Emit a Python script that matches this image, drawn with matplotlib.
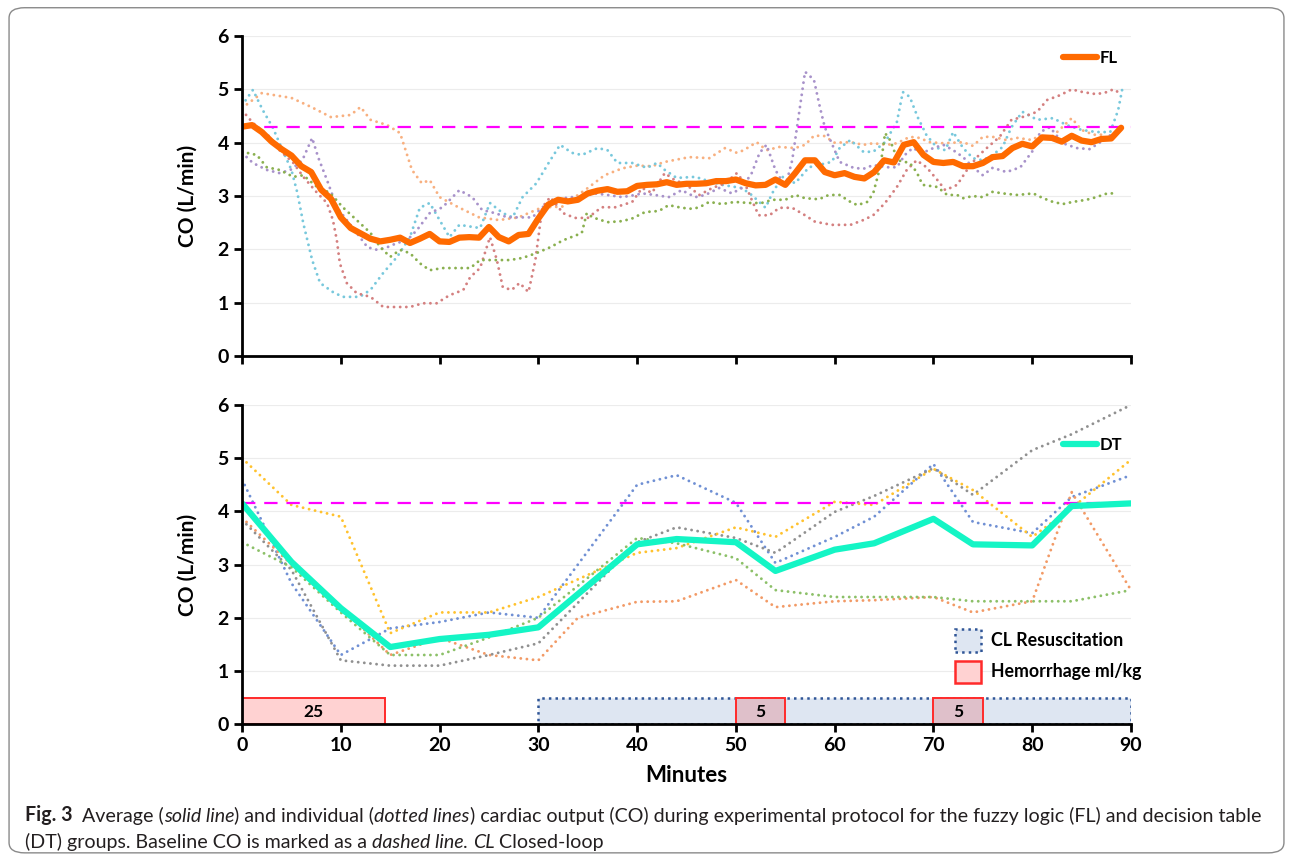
import numpy as np
import matplotlib
matplotlib.use("Agg")
import matplotlib.pyplot as plt
from matplotlib.patches import Rectangle, Patch, FancyBboxPatch

# ---------------- data ----------------
minutes = list(range(90))
fl_mean = [4.30, 4.33, 4.20, 4.02, 3.88, 3.76, 3.56, 3.45, 3.12, 2.95,
           2.60, 2.40, 2.30, 2.20, 2.15, 2.18, 2.22, 2.12, 2.20, 2.29,
           2.15, 2.14, 2.22, 2.23, 2.22, 2.42, 2.23, 2.15, 2.27, 2.29,
           2.58, 2.84, 2.93, 2.90, 2.93, 3.05, 3.10, 3.13, 3.08, 3.09,
           3.19, 3.21, 3.22, 3.26, 3.21, 3.23, 3.23, 3.24, 3.28, 3.28,
           3.31, 3.24, 3.20, 3.21, 3.31, 3.21, 3.43, 3.67, 3.67, 3.45,
           3.39, 3.43, 3.36, 3.33, 3.45, 3.67, 3.63, 3.96, 4.01, 3.77,
           3.64, 3.62, 3.64, 3.56, 3.56, 3.62, 3.73, 3.75, 3.90, 3.98,
           3.93, 4.10, 4.09, 4.02, 4.13, 4.04, 4.01, 4.07, 4.08, 4.28]
fl_baseline = 4.29

fl_peach_t = [0, 2, 5, 7, 9, 11, 12, 13, 14.7, 16, 17.2, 18.2, 19, 20, 21.8, 24, 26, 28, 29, 30.4,
              32.4, 33.7, 35, 36.7, 38.5, 40, 41.5, 42.8, 45.3, 47.3, 48.9, 50.1, 50.8, 52.1, 53.1,
              54.4, 56, 57, 57.9, 58.9, 60, 61.6, 62.9, 63.9, 65.3, 66.3, 67.6, 68.6, 69.6, 71, 73,
              74, 75, 76, 77.4, 78.5, 80, 80.5, 82, 84, 85, 86.2, 87]
fl_peach_v = [4.65, 4.93, 4.84, 4.67, 4.48, 4.52, 4.67, 4.43, 4.33, 4.18, 3.49, 3.24, 3.30, 2.98,
              2.80, 2.60, 2.55, 2.60, 2.68, 2.79, 2.80, 2.98, 3.15, 3.39, 3.52, 3.57, 3.56, 3.64,
              3.73, 3.71, 3.90, 3.81, 3.86, 4.01, 3.86, 3.92, 3.90, 3.96, 4.13, 4.13, 4.00, 4.01,
              3.96, 3.99, 3.96, 3.99, 4.11, 4.09, 4.01, 3.99, 4.01, 3.94, 4.11, 4.11, 4.05, 4.09,
              4.05, 4.11, 4.11, 4.46, 4.24, 4.15, 4.15]

fl_cyan_t = [0, 1.1, 2.1, 3.1, 4.1, 5, 5.6, 6.2, 7.1, 7.9, 9.2, 10.2, 11.9, 13, 14.3, 15.7, 17, 18,
             19, 20, 21, 22, 23.4, 24.1, 25.1, 26.4, 27.4, 28.4, 29.8, 31.2, 32.2, 33.4, 34.4, 36,
             37, 38, 39.5, 41, 42, 42.8, 44, 45.9, 46.9, 48.6, 50.6, 51.6, 53, 53.7, 54.7, 56,
             57.4, 59.7, 60.5, 61.6, 62.9, 63.9, 65.1, 66.3, 66.9, 67.6, 68.4, 69.3, 70.4, 71.2,
             72, 73, 74, 75, 76, 77, 77.9, 79, 80.5, 82.1, 83.5, 85, 86.5, 87.9, 88.7, 89.1]
fl_cyan_v = [4.70, 4.99, 4.61, 4.29, 3.86, 3.49, 3.06, 2.49, 1.80, 1.37, 1.20, 1.11, 1.11, 1.24,
             1.56, 1.86, 2.23, 2.78, 2.87, 2.55, 2.23, 2.46, 2.42, 2.40, 2.87, 2.68, 2.60, 2.98,
             3.24, 3.67, 3.96, 3.81, 3.77, 3.90, 3.86, 3.62, 3.62, 3.53, 3.62, 3.49, 3.34, 3.36,
             3.30, 3.21, 3.15, 3.02, 2.78, 3.06, 3.36, 3.24, 3.54, 3.64, 3.90, 4.05, 3.83, 3.83,
             4.01, 4.39, 4.95, 4.86, 4.48, 4.14, 3.90, 3.86, 4.20, 3.90, 3.71, 3.67, 3.77, 3.92,
             4.29, 4.58, 4.43, 4.46, 4.33, 4.24, 4.20, 4.20, 4.61, 4.99]

fl_rose_t = [0, 1.1, 2.8, 3.8, 5.2, 6.2, 7.6, 8.6, 9.2, 9.6, 9.9, 10.6, 11.6, 13, 14.3, 15.7, 17,
             18.3, 19.7, 21, 22.4, 23.1, 24.1, 25.1, 25.8, 26.4, 27.3, 28.1, 29, 29.7, 30.4, 31.2,
             32.5, 33.7, 35, 36.4, 37.8, 39.5, 40.5, 41.5, 42.8, 43.8, 45, 46.3, 47.6, 48.9, 50.1,
             50.9, 51.6, 52.3, 53.4, 54.4, 55.7, 57, 58, 59.7, 61.6, 62.9, 63.9, 65.1, 66.3, 67.3,
             68.3, 69.3, 70.4, 71.2, 72.4, 73.4, 74.4, 75.4, 76.7, 77.9, 79, 80.5, 81.5, 82.8, 84,
             85.1, 86.5, 87.6, 88.2, 88.7]
fl_rose_v = [4.61, 4.37, 4.11, 3.86, 3.62, 3.36, 3.06, 2.87, 2.55, 2.17, 1.74, 1.37, 1.18, 1.11,
             0.92, 0.92, 0.92, 0.99, 0.99, 1.14, 1.24, 1.48, 1.65, 2.23, 1.80, 1.29, 1.24, 1.37,
             1.20, 1.80, 2.79, 2.98, 2.68, 2.59, 2.59, 2.79, 2.79, 2.89, 3.15, 3.06, 3.43, 3.30,
             3.21, 3.02, 3.15, 3.24, 3.43, 3.24, 2.93, 2.64, 2.64, 2.78, 2.78, 2.64, 2.52, 2.46,
             2.46, 2.55, 2.64, 2.87, 3.17, 3.49, 3.67, 3.54, 3.30, 3.11, 3.21, 3.49, 3.73, 3.90,
             4.11, 4.43, 4.48, 4.58, 4.80, 4.89, 5.00, 4.95, 4.91, 4.95, 5.00, 4.95]

fl_purple_t = [0, 1.1, 2.5, 3.8, 4.9, 6.1, 7.1, 7.7, 8.6, 9.6, 10.6, 11.6, 12.7, 13.7, 14.7, 15.7,
               16.7, 17.7, 19, 20.3, 22, 23.3, 24.3, 25.6, 26.9, 28.3, 29.4, 30.4, 31.7, 33, 34.4,
               35.7, 37, 38.5, 39.8, 40.5, 41.8, 43.2, 44.5, 45.9, 46.9, 48.3, 49.6, 50.6, 51.6,
               52.4, 53.1, 54, 55, 55.7, 56.4, 57, 57.9, 58.5, 59, 59.7, 60.5, 61.9, 62.9, 63.9,
               65.3, 66.3, 67.1, 67.9, 68.9, 70, 71, 72, 73, 74, 75, 76, 77.4, 78.8, 80.1, 80.8,
               81.8, 83.1, 84.5, 85.8, 86.9, 87.9]
fl_purple_v = [3.81, 3.62, 3.49, 3.43, 3.49, 3.67, 4.09, 3.73, 3.30, 2.79, 2.55, 2.31, 2.04, 1.99,
               2.04, 2.12, 2.17, 2.36, 2.68, 2.79, 3.11, 2.98, 2.74, 2.68, 2.60, 2.60, 2.60, 2.79,
               2.89, 2.98, 2.98, 3.05, 3.02, 2.98, 3.02, 3.05, 3.02, 2.98, 3.11, 2.98, 3.02, 3.15,
               3.05, 3.15, 3.43, 3.81, 3.96, 3.49, 3.17, 3.67, 4.56, 5.33, 5.18, 4.67, 4.29, 3.99,
               3.64, 3.53, 3.51, 3.58, 3.54, 3.54, 3.77, 3.90, 3.81, 3.90, 3.96, 3.86, 3.73, 3.54,
               3.39, 3.53, 3.45, 3.54, 3.86, 4.20, 4.29, 3.99, 3.90, 3.88, 4.01, 4.14]

fl_green_t = [0, 1.5, 2.5, 3.8, 5.2, 6.2, 7.6, 8.9, 10.2, 11.6, 13, 14, 15, 16, 17, 18, 19, 20.3,
              21.8, 23.1, 24.1, 25.8, 27.1, 28.4, 29.8, 31.2, 32.5, 33.9, 34.4, 34.9, 35.5, 37,
              38.5, 39.5, 40.8, 42.2, 43.2, 44.5, 45.6, 46.3, 47.3, 48.6, 49.9, 51.3, 52.6, 53.7,
              55, 56, 57, 58.4, 59.4, 60.5, 61.6, 62.3, 63.3, 63.9, 64.6, 64.9, 65.1, 65.6, 66.4,
              67.6, 68.3, 68.9, 70.4, 71.4, 72.4, 73, 74, 75, 76, 77, 78.5, 80.1, 81.1, 82.1, 83.1,
              84.1, 85.5, 86.5, 87.6, 88.6]
fl_green_v = [3.83, 3.77, 3.54, 3.49, 3.36, 3.39, 3.17, 3.06, 2.79, 2.55, 2.31, 2.04, 1.86, 1.99,
              1.93, 1.74, 1.61, 1.65, 1.65, 1.65, 1.80, 1.80, 1.80, 1.84, 1.93, 2.04, 2.17, 2.27,
              2.31, 2.68, 2.60, 2.51, 2.53, 2.58, 2.70, 2.72, 2.83, 2.78, 2.76, 2.79, 2.89, 2.85,
              2.89, 2.87, 2.87, 2.93, 2.93, 3.02, 2.96, 2.94, 3.02, 3.02, 2.89, 2.83, 2.89, 3.05,
              3.54, 3.90, 4.18, 4.05, 3.67, 3.62, 3.45, 3.21, 3.17, 3.02, 3.02, 2.96, 3.00, 2.98,
              3.08, 3.05, 3.02, 3.05, 2.96, 2.89, 2.85, 2.89, 2.93, 2.98, 3.05, 3.05]

dt_t = [0, 5, 10, 15, 20, 25, 30, 40, 44, 50, 54, 60, 64, 70, 74, 80, 84, 90]
dt_mean = [4.15, 3.05, 2.18, 1.45, 1.60, 1.68, 1.82, 3.38, 3.48, 3.42, 2.88, 3.28, 3.40, 3.86,
           3.38, 3.36, 4.10, 4.15]
dt_baseline = 4.16
dt_blue = [4.60, 2.65, 1.30, 1.80, 1.92, 2.10, 2.00, 4.50, 4.68, 4.16, 3.03, 3.52, 3.90, 4.89,
           3.80, 3.59, 4.27, 4.68]
dt_gray = [3.84, 2.90, 1.20, 1.10, 1.10, 1.30, 1.52, 3.42, 3.70, 3.50, 3.22, 3.99, 4.29, 4.81,
           4.31, 5.15, 5.45, 6.00]
dt_yellow = [5.00, 4.12, 3.90, 1.71, 2.10, 2.10, 2.39, 3.22, 3.31, 3.70, 3.52, 4.18, 4.12, 4.80,
             4.40, 3.52, 4.06, 4.97]
dt_green = [3.42, 2.95, 2.10, 1.30, 1.30, 1.63, 2.00, 3.50, 3.40, 3.12, 2.52, 2.39, 2.39, 2.39,
            2.31, 2.31, 2.31, 2.52]
dt_orange_t = [0, 5, 10, 15, 20, 25, 30, 34, 40, 44, 50, 54, 60, 64, 70, 74, 80, 84, 90]
dt_orange = [3.88, 3.00, 2.20, 1.30, 1.62, 1.30, 1.20, 2.00, 2.30, 2.31, 2.71, 2.20, 2.31, 2.33,
             2.39, 2.10, 2.31, 4.36, 2.52]

cl_span = (30, 90)
hem_spans = [(0, 14.5), (50, 55), (70, 75)]
hem_labels = ["25", "5", "5"]

# ---------------- figure ----------------
fig = plt.figure(figsize=(12.93, 8.58), dpi=100)
fnt = "Lato"

fig.patches.append(FancyBboxPatch((0.007, 0.006), 0.986, 0.985, transform=fig.transFigure,
                                  boxstyle="round,pad=0,rounding_size=0.012",
                                  fc="none", ec="#8a8a8a", lw=1.0))

ax1 = fig.add_axes([0.1872, 0.585, 0.6875, 0.373])
ax2 = fig.add_axes([0.1872, 0.156, 0.6875, 0.372])

# round dots
dot = dict(lw=2.1, dashes=(0.01, 2.1), dash_capstyle="round")

ax1.plot(fl_peach_t, fl_peach_v, color="#F8B080", **dot)
ax1.plot(fl_cyan_t, fl_cyan_v, color="#78C8DC", **dot)
ax1.plot(fl_rose_t, fl_rose_v, color="#D48080", **dot)
ax1.plot(fl_purple_t, fl_purple_v, color="#A892CA", **dot)
ax1.plot(fl_green_t, fl_green_v, color="#8AB050", **dot)
ax1.axhline(fl_baseline, color="#FF00FF", lw=1.6, dashes=(6, 4))
fl_line, = ax1.plot(minutes, fl_mean, color="#FF6A00", lw=4.5, solid_joinstyle="round",
                    solid_capstyle="round")

ax2.plot(dt_t, dt_blue, color="#7090D4", **dot)
ax2.plot(dt_orange_t, dt_orange, color="#F29A66", **dot)
ax2.plot(dt_t, dt_gray, color="#909090", **dot)
ax2.plot(dt_t, dt_yellow, color="#FFC22E", **dot)
ax2.plot(dt_t, dt_green, color="#8CC068", **dot)
ax2.axhline(dt_baseline, color="#FF00FF", lw=1.6, dashes=(6, 4))
dt_line, = ax2.plot(dt_t, dt_mean, color="#14F5C5", lw=4.5, solid_joinstyle="round",
                    solid_capstyle="round")

# protocol boxes
ax2.add_patch(Rectangle((cl_span[0], 0), cl_span[1] - cl_span[0], 0.5, fc="#DEE6F2",
                        ec="#2F5597", ls=":", lw=1.8, zorder=1.5))
for (a, b), lab in zip(hem_spans, hem_labels):
    fc = "#DFC0CA" if a >= cl_span[0] else "#FFD2D2"
    ax2.add_patch(Rectangle((a, 0), b - a, 0.5, fc=fc, ec="#FF2A2A", lw=1.4, zorder=1.6))
    ax2.text((a + b) / 2, 0.22, lab, ha="center", va="center", fontsize=12.5,
             fontweight="bold", family=fnt, zorder=3)

for ax in (ax1, ax2):
    ax.set_xlim(0, 90)
    ax.set_ylim(0, 6)
    ax.set_xticks(range(0, 91, 10))
    ax.set_yticks(range(0, 7))
    for s in ("top", "right"):
        ax.spines[s].set_visible(False)
    for s in ("left", "bottom"):
        ax.spines[s].set_linewidth(2.0)
    ax.tick_params(width=2.0, length=6, labelsize=14)
    ax.yaxis.grid(True, color="#ECECEC", lw=0.8)
    ax.set_axisbelow(True)
    for lab in ax.get_yticklabels() + ax.get_xticklabels():
        lab.set_fontweight("bold")
        lab.set_family(fnt)
    ax.set_ylabel("CO (L/min)", fontsize=15, fontweight="bold", family=fnt, labelpad=14)

ax1.tick_params(axis="x", labelbottom=False)
ax2.set_xlabel("Minutes", fontsize=16, fontweight="bold", family=fnt, labelpad=8)

lp = dict(frameon=False, handletextpad=0.15, borderpad=0, borderaxespad=0,
          prop=dict(family=fnt, weight="bold", size=12), handlelength=2.0)
ax1.legend([fl_line], ["FL"], loc="center left", bbox_to_anchor=(0.924, 0.931), **lp)
leg_dt = ax2.legend([dt_line], ["DT"], loc="center left", bbox_to_anchor=(0.924, 0.876), **lp)
ax2.add_artist(leg_dt)
box_handles = [Patch(fc="#DEE6F2", ec="#2F5597", ls=":", lw=1.8),
               Patch(fc="#FFD2D2", ec="#FF2A2A", lw=1.8)]
ax2.legend(box_handles, ["CL Resuscitation", "Hemorrhage ml/kg"], loc="upper left",
           bbox_to_anchor=(0.802, 0.297), frameon=False, handlelength=1.45, handleheight=1.55,
           handletextpad=0.55, labelspacing=0.5, borderpad=0, borderaxespad=0,
           prop=dict(family=fnt, weight="bold", size=12.8))

# caption with mixed styles, pieces chained left to right
cap = "Lato"
def caption_line(x, y, pieces, size=14.1):
    prev = None
    for txt, style in pieces:
        kw = dict(fontsize=size, family=cap, color="#231f20",
                  fontweight="bold" if style == "b" else "normal",
                  fontstyle="italic" if style == "i" else "normal")
        if prev is None:
            prev = fig.text(x, y, txt, va="bottom", ha="left", **kw)
        else:
            prev = fig.axes[0].annotate(txt, xy=(1, 0), xycoords=prev, va="bottom", ha="left",
                                        annotation_clip=False, **kw)

caption_line(0.019, 0.039, [("Fig. 3", "b"), ("  Average (", "n"), ("solid line", "i"),
                            (") and individual (", "n"), ("dotted lines", "i"),
                            (") cardiac output (CO) during experimental protocol for the fuzzy "
                             "logic (FL) and decision table", "n")])
caption_line(0.019, 0.008, [("(DT) groups. Baseline CO is marked as a ", "n"),
                            ("dashed line", "i"), (". ", "n"), ("CL", "i"), (" Closed-loop", "n")])

fig.savefig("out.png", dpi=100)
